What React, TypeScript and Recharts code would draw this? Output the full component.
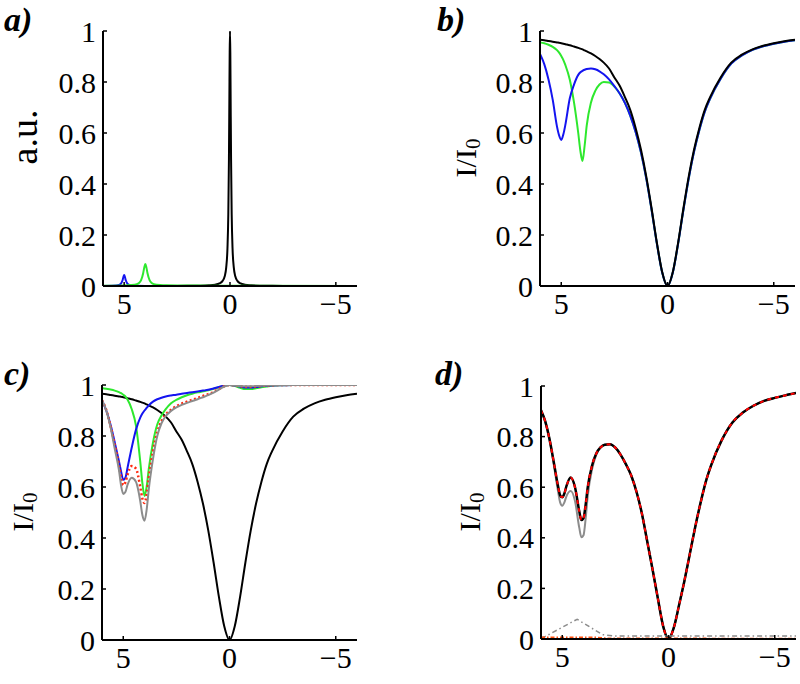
import { LineChart, Line, XAxis, YAxis } from 'recharts'

const FONT = '"Liberation Serif", "Times New Roman", serif'

// shared detuning grid for panels b, c, d (axis runs 6 -> -6)
const gridX = [6, 5.8, 5.6, 5.4, 5.2, 5.1, 5.0, 4.9, 4.8, 4.6, 4.4, 4.2, 4.1, 4.0, 3.9, 3.8, 3.6, 3.4, 3.2, 3.0, 2.75, 2.5, 2.25, 2.0, 1.75, 1.5, 1.25, 1.0, 0.75, 0.5, 0.25, 0, -0.25, -0.5, -0.75, -1, -1.25, -1.5, -1.75, -2, -2.5, -3, -3.5, -4, -4.5, -5, -5.5, -6]

const xTicks = [5, 0, -5]
const yTicks = [0, 0.2, 0.4, 0.6, 0.8, 1]

// panel a: emission spectra
const aBlackX = [6, 4, 3, 2, 1.5, 1, 0.7, 0.5, 0.35, 0.25, 0.18, 0.12, 0.08, 0.05, 0.03, 0.015, 0, -0.015, -0.03, -0.05, -0.08, -0.12, -0.18, -0.25, -0.35, -0.5, -0.7, -1, -1.5, -2, -3, -4, -6]
const aBlackY = [0, 0, 0.0003, 0.0006, 0.0011, 0.0025, 0.005, 0.01, 0.02, 0.038, 0.072, 0.148, 0.28, 0.5, 0.735, 0.917, 1, 0.917, 0.735, 0.5, 0.28, 0.148, 0.072, 0.038, 0.02, 0.01, 0.005, 0.0025, 0.0011, 0.0006, 0.0003, 0, 0]
const aBlueX = [6, 5.6, 5.4, 5.25, 5.15, 5.08, 5.04, 5, 4.96, 4.92, 4.85, 4.75, 4.6, 4.4, 4, 3, 0, -6]
const aBlueY = [0.0003, 0.0008, 0.0017, 0.004, 0.0095, 0.0215, 0.034, 0.043, 0.034, 0.0215, 0.0095, 0.004, 0.0017, 0.0008, 0.0003, 0.0001, 0, 0]
const aGreenX = [6, 5, 4.7, 4.4, 4.3, 4.2, 4.1, 4.05, 4, 3.95, 3.9, 3.8, 3.7, 3.6, 3.3, 3, 2, 1, -6]
const aGreenY = [0.0006, 0.002, 0.0035, 0.0075, 0.0119, 0.0228, 0.051, 0.073, 0.086, 0.073, 0.051, 0.0228, 0.0119, 0.0075, 0.0035, 0.0025, 0.002, 0.0012, 0]

// panel b / c: broad absorption dip
const dipBlack = [0.966, 0.964, 0.961, 0.958, 0.955, 0.954, 0.952, 0.95, 0.948, 0.944, 0.939, 0.934, 0.931, 0.928, 0.924, 0.92, 0.912, 0.902, 0.89, 0.876, 0.853, 0.818, 0.785, 0.74, 0.69, 0.62, 0.535, 0.43, 0.305, 0.17, 0.055, 0, 0.055, 0.17, 0.305, 0.43, 0.535, 0.62, 0.69, 0.74, 0.818, 0.876, 0.907, 0.928, 0.942, 0.952, 0.96, 0.966]
const bBlue = [0.91, 0.87, 0.81, 0.73, 0.625, 0.59, 0.573, 0.595, 0.635, 0.735, 0.79, 0.828, 0.838, 0.844, 0.848, 0.851, 0.853, 0.85, 0.842, 0.83, 0.81, 0.784, 0.755, 0.717, 0.667, 0.604, 0.524, 0.422, 0.299, 0.166, 0.053, 0, 0.053, 0.166, 0.299, 0.422, 0.527, 0.612, 0.683, 0.734, 0.813, 0.872, 0.904, 0.926, 0.94, 0.95, 0.958, 0.964]
const bGreen = [0.955, 0.952, 0.946, 0.938, 0.925, 0.915, 0.902, 0.886, 0.865, 0.81, 0.72, 0.6, 0.53, 0.49, 0.55, 0.63, 0.72, 0.765, 0.79, 0.8, 0.798, 0.782, 0.755, 0.717, 0.667, 0.604, 0.524, 0.422, 0.299, 0.166, 0.053, 0, 0.053, 0.166, 0.299, 0.422, 0.527, 0.612, 0.683, 0.734, 0.813, 0.872, 0.904, 0.926, 0.94, 0.95, 0.958, 0.964]

// panel c
const cBlue = [0.94, 0.9, 0.845, 0.775, 0.7, 0.66, 0.628, 0.636, 0.675, 0.755, 0.825, 0.872, 0.888, 0.9, 0.91, 0.92, 0.935, 0.944, 0.95, 0.955, 0.959, 0.962, 0.966, 0.969, 0.972, 0.975, 0.978, 0.981, 0.986, 0.992, 0.998, 1, 0.998, 0.994, 0.99, 0.99, 0.992, 0.995, 0.997, 0.998, 0.999, 1, 1, 1, 1, 1, 1, 1]
const cGreen = [0.988, 0.985, 0.982, 0.978, 0.972, 0.968, 0.962, 0.955, 0.943, 0.905, 0.84, 0.7, 0.615, 0.565, 0.6, 0.67, 0.775, 0.845, 0.88, 0.905, 0.928, 0.942, 0.952, 0.96, 0.966, 0.971, 0.975, 0.979, 0.985, 0.991, 0.997, 1, 0.996, 0.989, 0.984, 0.984, 0.987, 0.991, 0.994, 0.997, 0.999, 1, 1, 1, 1, 1, 1, 1]
const cGray = [0.94, 0.9, 0.835, 0.75, 0.665, 0.605, 0.573, 0.58, 0.608, 0.636, 0.62, 0.545, 0.49, 0.468, 0.51, 0.59, 0.71, 0.8, 0.85, 0.878, 0.898, 0.912, 0.922, 0.93, 0.937, 0.944, 0.952, 0.96, 0.97, 0.982, 0.994, 1, 0.998, 0.996, 0.995, 0.995, 0.996, 0.997, 0.998, 0.999, 1, 1, 1, 1, 1, 1, 1, 1]
const cRed = [0.94, 0.902, 0.84, 0.765, 0.685, 0.635, 0.607, 0.618, 0.648, 0.682, 0.672, 0.6, 0.555, 0.537, 0.57, 0.635, 0.74, 0.815, 0.858, 0.884, 0.903, 0.917, 0.927, 0.935, 0.942, 0.949, 0.957, 0.964, 0.973, 0.984, 0.995, 1, 0.998, 0.995, 0.993, 0.993, 0.994, 0.996, 0.998, 0.999, 1, 1, 1, 1, 1, 1, 1, 1]

// panel d
const dBlack = [0.904, 0.86, 0.79, 0.7, 0.605, 0.568, 0.56, 0.575, 0.605, 0.638, 0.6, 0.505, 0.47, 0.478, 0.53, 0.6, 0.685, 0.733, 0.757, 0.768, 0.77, 0.756, 0.728, 0.69, 0.645, 0.58, 0.495, 0.385, 0.275, 0.16, 0.05, 0, 0.045, 0.135, 0.23, 0.335, 0.44, 0.535, 0.62, 0.685, 0.785, 0.855, 0.895, 0.922, 0.941, 0.953, 0.963, 0.972]
const dGray = [0.904, 0.86, 0.79, 0.69, 0.585, 0.54, 0.527, 0.54, 0.565, 0.585, 0.545, 0.44, 0.402, 0.41, 0.475, 0.565, 0.67, 0.728, 0.757, 0.768, 0.77, 0.756, 0.728, 0.69, 0.645, 0.58, 0.495, 0.385, 0.275, 0.16, 0.05, 0, 0.045, 0.135, 0.23, 0.335, 0.44, 0.535, 0.62, 0.685, 0.785, 0.855, 0.895, 0.922, 0.941, 0.953, 0.963, 0.972]
const dGrayDotX = [6, 5.8, 4.3, 3.1, 2.5, -6]
const dGrayDotY = [0.005, 0.01, 0.078, 0.017, 0.012, 0.012]
const dRedDotX = [6, 3.5, 2.8, -6]
const dRedDotY = [0.007, 0.007, 0.003, 0.002]

const BLUE = '#1414f0'
const GREEN = '#2ee82e'
const GRAY = '#8c8c8c'
const RED = '#ff2a10'

type Series = {
  xs: number[]
  ys: number[]
  color: string
  width?: number
  dash?: string
  curve?: 'monotone' | 'linear'
}

const zip = (xs: number[], ys: number[]) => xs.map((x, i) => ({ x, y: ys[i] }))

const fmtX = (v: number) => (v < 0 ? '\u2212' + Math.abs(v) : String(v))

function XTick(props: any) {
  const { x, y, payload } = props
  return (
    <g>
      <line x1={x} x2={x} y1={y - 7} y2={y - 11} stroke="#000" strokeWidth={1.5} />
      <text x={x} y={y} dy="0.71em" textAnchor="middle" fontSize={30} fontFamily={FONT} fill="#000">
        {fmtX(payload.value)}
      </text>
    </g>
  )
}

function YTick(props: any) {
  const { x, y, payload } = props
  return (
    <g>
      <line x1={x + 7} x2={x + 11} y1={y} y2={y} stroke="#000" strokeWidth={1.5} />
      <text x={x} y={y} textAnchor="end" dominantBaseline="central" fontSize={30} fontFamily={FONT} fill="#000">
        {String(payload.value)}
      </text>
    </g>
  )
}

interface PanelProps {
  left: number
  top: number
  margin: { top: number; right: number; bottom: number; left: number }
  label: string
  labelX: number
  labelY: number
  title: 'au' | 'ratio'
  titleX: number
  titleY: number
  series: Series[]
}

function Panel({ left, top, margin, label, labelX, labelY, title, titleX, titleY, series }: PanelProps) {
  return (
    <div style={{ position: 'absolute', left, top, width: 400, height: 342 }}>
      <LineChart width={400} height={342} margin={margin}>
        <XAxis
          type="number"
          dataKey="x"
          domain={[-6, 6]}
          reversed
          allowDataOverflow
          ticks={xTicks}
          interval={0}
          tickSize={0}
          tickMargin={7}
          tick={XTick}
          height={40}
          axisLine={{ stroke: '#000', strokeWidth: 2 }}
        />
        <YAxis
          type="number"
          domain={[0, 1]}
          allowDataOverflow
          ticks={yTicks}
          interval={0}
          tickSize={0}
          tickMargin={7}
          tick={YTick}
          width={70}
          axisLine={{ stroke: '#000', strokeWidth: 2 }}
        />
        {series.map((s, i) => (
          <Line
            key={i}
            data={zip(s.xs, s.ys)}
            dataKey="y"
            type={s.curve ?? 'monotone'}
            stroke={s.color}
            strokeWidth={s.width ?? 2}
            strokeDasharray={s.dash}
            dot={false}
            activeDot={false}
            isAnimationActive={false}
          />
        ))}
      </LineChart>
      <svg width={400} height={342} style={{ position: 'absolute', left: 0, top: 0, pointerEvents: 'none' }}>
        <text x={labelX} y={labelY} fontSize={34} fontWeight="bold" fontStyle="italic" fontFamily={FONT} fill="#000">
          {label}
        </text>
        {title === 'au' ? (
          <text x={titleX} y={titleY} transform={`rotate(-90 ${titleX} ${titleY})`} textAnchor="middle" fontSize={38} fontFamily={FONT} fill="#000">
            a.u.
          </text>
        ) : (
          <text x={titleX} y={titleY} transform={`rotate(-90 ${titleX} ${titleY})`} textAnchor="middle" fontSize={30} fontFamily={FONT} fill="#000">
            I/I<tspan fontSize={21} dy={4}>0</tspan>
          </text>
        )}
      </svg>
    </div>
  )
}

export default function App() {
  return (
    <div style={{ position: 'absolute', left: 0, top: 0, width: 800, height: 684, background: '#fff', fontFamily: FONT }}>
      <Panel
        left={0}
        top={0}
        margin={{ top: 31, right: 43, bottom: 16, left: 33 }}
        label="a)"
        labelX={4}
        labelY={31}
        title="au"
        titleX={37}
        titleY={137}
        series={[
          { xs: aBlackX, ys: aBlackY, color: '#000' },
          { xs: aBlueX, ys: aBlueY, color: BLUE },
          { xs: aGreenX, ys: aGreenY, color: GREEN },
        ]}
      />
      <Panel
        left={400}
        top={0}
        margin={{ top: 31, right: 5, bottom: 16, left: 70 }}
        label="b)"
        labelX={37}
        labelY={31}
        title="ratio"
        titleX={76}
        titleY={158}
        series={[
          { xs: gridX, ys: bGreen, color: GREEN },
          { xs: gridX, ys: bBlue, color: BLUE },
          { xs: gridX, ys: dipBlack, color: '#000' },
        ]}
      />
      <Panel
        left={0}
        top={342}
        margin={{ top: 43, right: 43, bottom: 4, left: 32 }}
        label="c)"
        labelX={4}
        labelY={43}
        title="ratio"
        titleX={33}
        titleY={170}
        series={[
          { xs: gridX, ys: dipBlack, color: '#000' },
          { xs: gridX, ys: cGreen, color: GREEN },
          { xs: gridX, ys: cBlue, color: BLUE },
          { xs: gridX, ys: cRed, color: RED, width: 2.5, dash: '2 2.5' },
          { xs: gridX, ys: cGray, color: GRAY },
        ]}
      />
      <Panel
        left={400}
        top={342}
        margin={{ top: 44, right: 4, bottom: 5, left: 71 }}
        label="d)"
        labelX={35}
        labelY={43}
        title="ratio"
        titleX={80}
        titleY={170}
        series={[
          { xs: gridX, ys: dGray, color: GRAY },
          { xs: gridX, ys: dBlack, color: '#000', width: 2.5 },
          { xs: gridX, ys: dBlack, color: '#ff0000', width: 2, dash: '4 4' },
          { xs: dGrayDotX, ys: dGrayDotY, color: GRAY, width: 1.5, dash: '5 3 1.5 3', curve: 'linear' },
          { xs: dRedDotX, ys: dRedDotY, color: '#ff5010', width: 1.5, dash: '4 2 1.5 2', curve: 'linear' },
        ]}
      />
    </div>
  )
}
